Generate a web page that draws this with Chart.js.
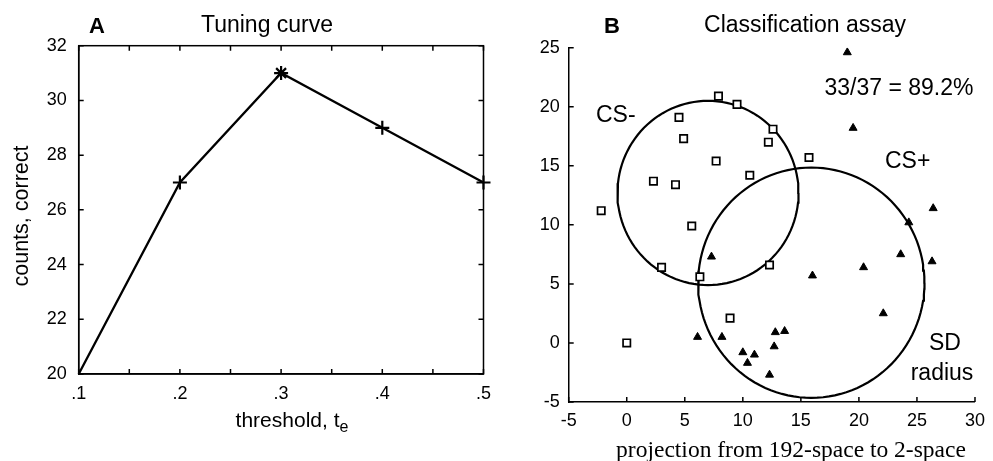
<!DOCTYPE html>
<html>
<head>
<meta charset="utf-8">
<script src="https://cdn.jsdelivr.net/npm/chart.js@4.4.1/dist/chart.umd.min.js"></script>
<style>
  html, body { margin: 0; padding: 0; background: #fff; }
  #wrap { position: relative; width: 993px; height: 461px; }
  canvas { position: absolute; top: 0; }
  #tuning { left: 0; }
  #assay { left: 500px; }
</style>
</head>
<body>
<div id="wrap">
  <canvas id="tuning" width="500" height="461"></canvas>
  <canvas id="assay" width="493" height="461"></canvas>
</div>
<script>
// A: tuning curve
const thresholds = [0.1, 0.2, 0.3, 0.4, 0.5];
const countsCorrect = [20, 27, 31, 29, 27];
const tuningXTicks = [0.1, 0.15, 0.2, 0.25, 0.3, 0.35, 0.4, 0.45, 0.5];
const tuningYTicks = [20, 22, 24, 26, 28, 30, 32];

// B: classification assay, CS- points (squares) and CS+ points (triangles)
const csMinusX = [7.9, 9.5, 4.5, 4.9, 7.7, 10.6, 2.3, 4.2, -2.2, 12.6, 12.2, 15.7, 5.6, 3.0, 6.3, 8.9, 0.0, 12.3];
const csMinusY = [20.9, 20.2, 19.1, 17.3, 15.4, 14.2, 13.7, 13.4, 11.2, 18.1, 17.0, 15.7, 9.9, 6.4, 5.6, 2.1, 0.0, 6.6];
const csPlusX = [19.0, 19.5, 26.4, 24.3, 23.6, 26.3, 20.4, 16.0, 22.1, 12.8, 13.6, 12.7, 12.3, 7.3, 6.1, 8.2, 10.0, 11.0, 10.4];
const csPlusY = [24.6, 18.2, 11.4, 10.2, 7.5, 6.9, 6.4, 5.7, 2.5, 0.9, 1.0, -0.3, -2.7, 7.3, 0.5, 0.5, -0.8, -1.0, -1.7];
// SD circles (CS-, CS+): centre and radius
const circleCx = [7.0, 15.9];
const circleCy = [12.7, 5.1];
const circleR = [7.8, 9.75];
const nCorrect = 33;
const assayXTicks = [-5, 0, 5, 10, 15, 20, 25, 30];
const assayYTicks = [-5, 0, 5, 10, 15, 20, 25];

const SANS = '"Liberation Sans", Arial, Helvetica, sans-serif';
const SERIF = '"Liberation Serif", "Times New Roman", serif';
Chart.defaults.font.family = SANS;
Chart.defaults.color = '#000';
Chart.defaults.animation = false;

function toPoints(xs, ys) {
  return xs.map((x, i) => ({ x: x, y: ys[i] }));
}

function circlePoints(i) {
  const pts = [];
  for (let k = 0; k <= 120; k++) {
    const a = k / 120 * 2 * Math.PI;
    pts.push({ x: circleCx[i] + circleR[i] * Math.cos(a), y: circleCy[i] + circleR[i] * Math.sin(a) });
  }
  return pts;
}

// matlab-style axes: ticks pointing inward, optional full box
const inwardTicks = {
  id: 'inwardTicks',
  afterDraw(chart, args, opts) {
    const { ctx, chartArea: a, scales } = chart;
    const len = 5;
    ctx.save();
    ctx.strokeStyle = '#000';
    ctx.lineWidth = 1.5;
    if (opts.box) ctx.strokeRect(a.left, a.top, a.right - a.left, a.bottom - a.top);
    ctx.beginPath();
    scales.x.ticks.forEach(t => {
      const px = scales.x.getPixelForValue(t.value);
      ctx.moveTo(px, a.bottom); ctx.lineTo(px, a.bottom - len);
      if (opts.box) { ctx.moveTo(px, a.top); ctx.lineTo(px, a.top + len); }
    });
    scales.y.ticks.forEach(t => {
      const py = scales.y.getPixelForValue(t.value);
      ctx.moveTo(a.left, py); ctx.lineTo(a.left + len, py);
      if (opts.box) { ctx.moveTo(a.right, py); ctx.lineTo(a.right - len, py); }
    });
    ctx.stroke();
    ctx.restore();
  }
};

// free text: titles, panel letters, annotations
const panelText = {
  id: 'panelText',
  afterDraw(chart, args, opts) {
    const ctx = chart.ctx;
    ctx.save();
    ctx.fillStyle = '#000';
    ctx.textBaseline = 'alphabetic';
    (opts.items || []).forEach(it => {
      ctx.font = it.font;
      ctx.textAlign = it.align || 'center';
      if (it.rotate) {
        ctx.save();
        ctx.translate(it.x, it.y);
        ctx.rotate(it.rotate);
        ctx.fillText(it.text, 0, 0);
        ctx.restore();
      } else if (it.sub) {
        ctx.textAlign = 'left';
        const w1 = ctx.measureText(it.text).width;
        ctx.font = it.subFont;
        const w2 = ctx.measureText(it.sub).width;
        const x0 = it.x - (w1 + w2) / 2;
        ctx.font = it.font;
        ctx.fillText(it.text, x0, it.y);
        ctx.font = it.subFont;
        ctx.fillText(it.sub, x0 + w1, it.y + 5);
      } else {
        ctx.fillText(it.text, it.x, it.y);
      }
    });
    ctx.restore();
  }
};

function fixedTicks(values) {
  return scale => { scale.ticks = values.map(v => ({ value: v })); };
}

const bestIdx = countsCorrect.indexOf(Math.max(...countsCorrect));

new Chart(document.getElementById('tuning'), {
  type: 'line',
  data: {
    datasets: [{
      data: toPoints(thresholds, countsCorrect),
      borderColor: '#000',
      borderWidth: 2.3,
      tension: 0,
      clip: false,
      pointStyle: c => c.dataIndex === bestIdx ? 'star' : 'cross',
      pointRadius: c => c.dataIndex === 0 ? 0 : 7,
      pointBorderColor: '#000',
      pointBorderWidth: 2.2
    }]
  },
  options: {
    responsive: false,
    events: [],
    layout: { padding: { left: 0, top: 45.7, right: 8, bottom: 0 } },
    plugins: {
      legend: { display: false },
      tooltip: { enabled: false },
      inwardTicks: { box: true },
      panelText: {
        items: [
          { text: 'A', x: 97, y: 33, font: 'bold 22px ' + SANS },
          { text: 'Tuning curve', x: 267, y: 32, font: '23px ' + SANS },
          { text: 'counts, correct', x: 28, y: 216, font: '21.5px ' + SANS, rotate: -Math.PI / 2 },
          { text: 'threshold, t', sub: 'e', x: 292, y: 427, font: '21px ' + SANS, subFont: '16px ' + SANS }
        ]
      }
    },
    scales: {
      x: {
        type: 'linear', min: 0.1, max: 0.5,
        afterBuildTicks: fixedTicks(tuningXTicks),
        afterFit: s => { s.height = 87; },
        grid: { display: false, drawTicks: false },
        border: { display: true, color: '#000', width: 1.5 },
        ticks: {
          padding: 9,
          maxRotation: 0,
          autoSkip: false,
          font: { size: 18 },
          callback: v => thresholds.some(t => Math.abs(t - v) < 1e-6) ? v.toFixed(1).replace(/^0/, '') : ''
        }
      },
      y: {
        type: 'linear', min: 20, max: 32,
        afterBuildTicks: fixedTicks(tuningYTicks),
        afterFit: s => { s.width = 78.7; },
        grid: { display: false, drawTicks: false },
        border: { display: true, color: '#000', width: 1.5 },
        ticks: { padding: 12, font: { size: 18 } }
      }
    }
  },
  plugins: [inwardTicks, panelText]
});

const nTotal = csMinusX.length + csPlusX.length;
const scoreText = nCorrect + '/' + nTotal + ' = ' + (100 * nCorrect / nTotal).toFixed(1) + '%';

new Chart(document.getElementById('assay'), {
  type: 'scatter',
  data: {
    datasets: [
      {
        data: toPoints(csMinusX, csMinusY),
        pointStyle: 'rect', pointRadius: 5.2,
        pointBorderColor: '#000', pointBackgroundColor: '#fff', pointBorderWidth: 1.7
      },
      {
        data: toPoints(csPlusX, csPlusY),
        pointStyle: 'triangle', pointRadius: 4.6,
        pointBorderColor: '#000', pointBackgroundColor: '#000', pointBorderWidth: 1
      },
      {
        data: circlePoints(0), showLine: true, pointRadius: 0,
        borderColor: '#000', borderWidth: 2.2, tension: 0
      },
      {
        data: circlePoints(1), showLine: true, pointRadius: 0,
        borderColor: '#000', borderWidth: 2.2, tension: 0
      }
    ]
  },
  options: {
    responsive: false,
    events: [],
    layout: { padding: { left: 0, top: 47.7, right: 11.3, bottom: 0 } },
    plugins: {
      legend: { display: false },
      tooltip: { enabled: false },
      inwardTicks: { box: false },
      panelText: {
        items: [
          { text: 'B', x: 112, y: 33, font: 'bold 22px ' + SANS },
          { text: 'Classification assay', x: 305, y: 32, font: '23px ' + SANS },
          { text: scoreText, x: 399, y: 95, font: '23px ' + SANS },
          { text: 'CS-', x: 96, y: 122, font: '23px ' + SANS, align: 'left' },
          { text: 'CS+', x: 385, y: 168, font: '23px ' + SANS, align: 'left' },
          { text: 'SD', x: 445, y: 350, font: '23px ' + SANS },
          { text: 'radius', x: 442, y: 380, font: '23px ' + SANS },
          { text: 'projection from 192-space to 2-space', x: 291, y: 457, font: '23.5px ' + SERIF }
        ]
      }
    },
    scales: {
      x: {
        type: 'linear', min: -5, max: 30,
        afterBuildTicks: fixedTicks(assayXTicks),
        afterFit: s => { s.height = 59; },
        grid: { display: false, drawTicks: false },
        border: { display: true, color: '#000', width: 1.5 },
        ticks: { padding: 8, maxRotation: 0, autoSkip: false, font: { size: 18 } }
      },
      y: {
        type: 'linear', min: -5, max: 25,
        afterBuildTicks: fixedTicks(assayYTicks),
        afterFit: s => { s.width = 68.7; },
        grid: { display: false, drawTicks: false },
        border: { display: true, color: '#000', width: 1.5 },
        ticks: { padding: 9, font: { size: 18 } }
      }
    }
  },
  plugins: [inwardTicks, panelText]
});
</script>
</body>
</html>
